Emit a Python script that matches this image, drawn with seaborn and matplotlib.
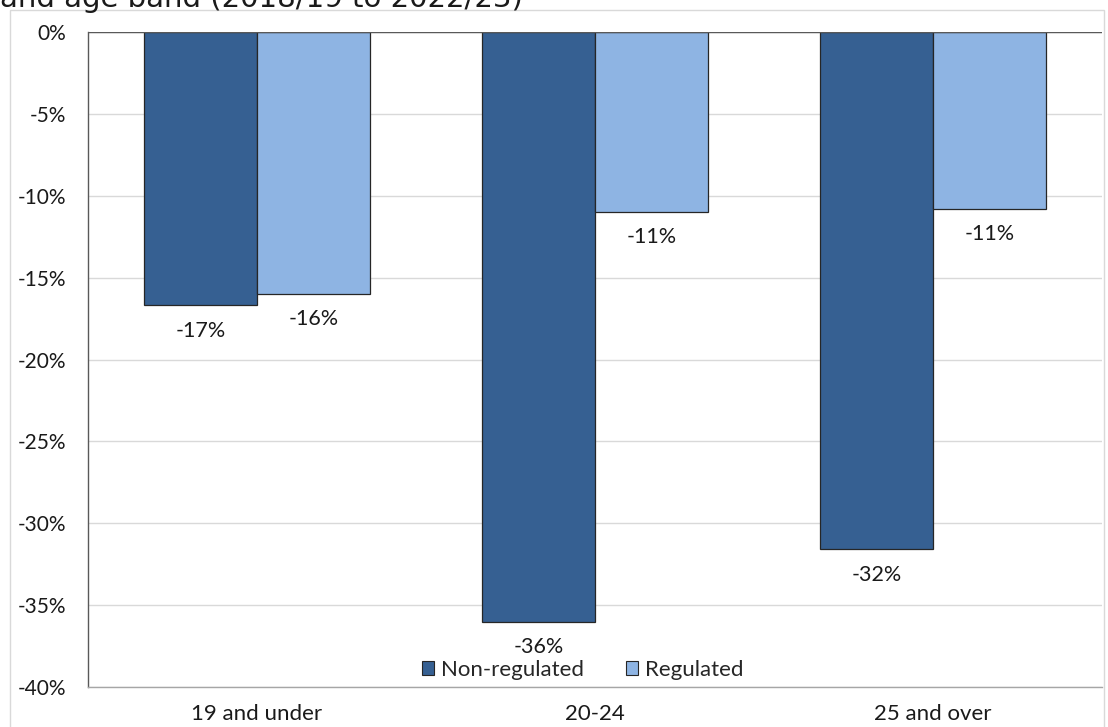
import matplotlib
matplotlib.use("Agg")
import matplotlib.pyplot as plt
from matplotlib.patches import Patch, Rectangle
import seaborn as sns
import pandas as pd

# Percentage change by age band and qualification type
age_bands = ["19 and under", "20-24", "25 and over"]
non_regulated = [-16.7, -36.0, -31.6]
regulated = [-16.0, -11.0, -10.8]
series_names = ["Non-regulated", "Regulated"]
y_ticks = [0, -5, -10, -15, -20, -25, -30, -35, -40]
title_text = "and age band (2018/19 to 2022/23)"

df = pd.DataFrame({
    "age": age_bands * 2,
    "series": [series_names[0]] * 3 + [series_names[1]] * 3,
    "change": non_regulated + regulated,
})

sns.set_theme(style="white")
plt.rcParams["font.family"] = ["Lato", "DejaVu Sans"]

colors = {"Non-regulated": "#366092", "Regulated": "#8EB4E3"}
TXT = "#1a1a1a"

fig = plt.figure(figsize=(11.08, 7.27), dpi=100)
ax = fig.add_axes([0.0794, 0.0550, 0.9152, 0.9010])

sns.barplot(data=df, x="age", y="change", hue="series", order=age_bands,
            hue_order=series_names, palette=colors, width=0.67,
            edgecolor="#262626", linewidth=0.9, saturation=1, ax=ax,
            legend=False)

# Value labels below each bar end
for cont, vals in zip(ax.containers, [non_regulated, regulated]):
    ax.bar_label(cont, labels=[f"{round(v):d}%" for v in vals], padding=11,
                 fontsize=15.5, color=TXT)

ax.set_ylim(-40, 0)
ax.set_xlim(-0.5, 2.5)
ax.set_yticks(y_ticks)
ax.set_yticklabels([f"{t}%" for t in y_ticks])
ax.yaxis.grid(True, color="#D9D9D9", linewidth=1)
ax.set_axisbelow(True)
ax.set_xlabel("")
ax.set_ylabel("")
ax.tick_params(axis="y", length=0, pad=16, labelsize=15, labelcolor=TXT)
ax.tick_params(axis="x", length=0, pad=12, labelsize=16, labelcolor=TXT)

for side in ["top", "right"]:
    ax.spines[side].set_visible(False)
ax.spines["left"].set_color("#595959")
ax.spines["left"].set_linewidth(1.0)
ax.spines["bottom"].set_color("#A6A6A6")
ax.spines["bottom"].set_linewidth(1.0)
ax.axhline(0, color="#595959", linewidth=1.0, zorder=1)

handles = [Patch(facecolor=colors[s], edgecolor="#262626", linewidth=0.8)
           for s in series_names]
ax.legend(handles, series_names, loc="center", bbox_to_anchor=(0.4877, 0.026),
          ncol=2, frameon=False, fontsize=16, handlelength=0.55,
          handleheight=0.55, handletextpad=0.3, columnspacing=1.9,
          borderaxespad=0, borderpad=0)

# Chart area border
fig.patches.append(Rectangle((10 / 1108, -0.01), 1094 / 1108, 1 - 10 / 727 + 0.01,
                             transform=fig.transFigure, fill=False,
                             edgecolor="#D9D9D9", linewidth=1.0))

fig.text(0.0, 1 - 7 / 727, title_text, fontsize=21, color=TXT,
         va="baseline", ha="left", family=["DejaVu Sans"])

fig.savefig("out.png", dpi=100)
